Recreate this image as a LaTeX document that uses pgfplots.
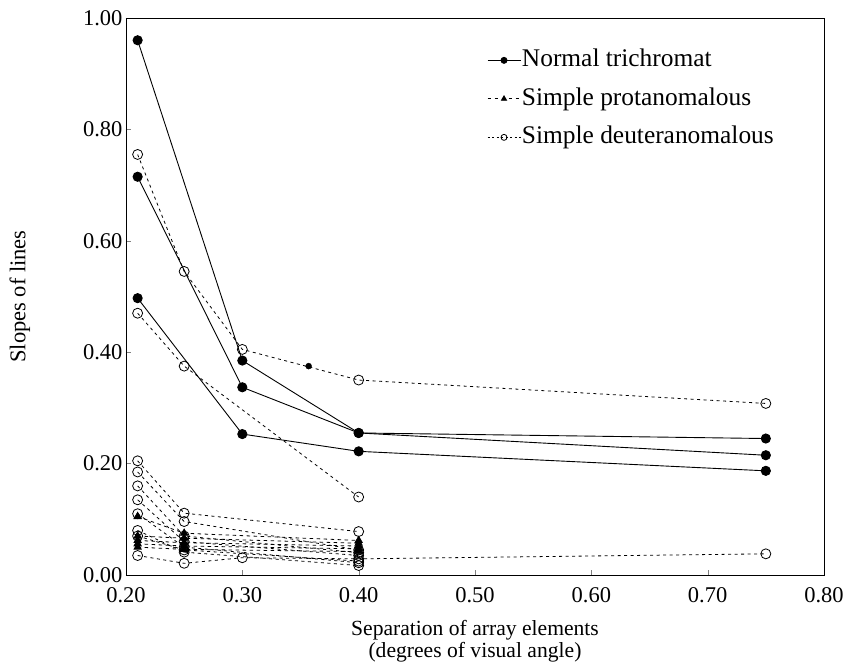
\documentclass[border=0pt]{standalone}
\usepackage{fontspec}
\setmainfont{Liberation Serif}
\usepackage{pgfplots}
\pgfplotsset{compat=1.18}
\pgfplotsset{
  normal/.style={black, line width=0.9pt, mark=*, mark size=4.6pt, mark options={solid, fill=black}},
  prot/.style={black, line width=0.8pt, dash pattern=on 3.5pt off 3.5pt, mark=triangle*, mark size=4.2pt, mark options={solid, fill=black}},
  deut/.style={black, line width=0.8pt, dash pattern=on 3pt off 3.5pt, mark=o, mark size=5pt, mark options={solid, fill=white, line width=0.8pt}},
}
\begin{document}
\begin{tikzpicture}
\begin{axis}[
  name=ax,
  scale only axis, width=698pt, height=557pt,
  xmin=0.2, xmax=0.8, ymin=0, ymax=1,
  xtick={0.2,0.3,0.4,0.5,0.6,0.7,0.8},
  ytick={0,0.2,0.4,0.6,0.8,1.0},
  tick pos=left,
  tick align=inside,
  major tick length=5pt,
  axis line style={line width=0.8pt},
  /pgf/number format/fixed,
  /pgf/number format/fixed zerofill,
  /pgf/number format/precision=2,
  /pgf/number format/assume math mode=true,
  tick label style={font=\fontsize{22.5}{26}\selectfont},
  xticklabel style={yshift=-9pt},
  xlabel={Separation of array elements\\(degrees of visual angle)},
  xlabel style={align=center, font=\fontsize{21.6}{22.5}\selectfont,
    at={(axis description cs:0.5,-0.1185)}, anchor=center},
  ylabel={Slopes of lines},
  ylabel style={font=\fontsize{22.5}{26}\selectfont,
    at={(axis description cs:-0.152,0.5)}, anchor=center},
  legend style={at={(0.517,0.949)}, anchor=north west, draw=none, fill=none,
    font=\fontsize{25.4}{28}\selectfont, row sep=11pt, inner sep=0pt,
    nodes={inner sep=1pt, text height=19pt, text depth=6.5pt}},
  legend cell align=left,
  legend image code/.code={
    \draw[#1, mark size=3pt, mark repeat=2, mark phase=2] plot coordinates {(0pt,0pt) (16.5pt,0pt) (33pt,0pt)};
  },
]
\addlegendimage{normal}
\addlegendentry{Normal trichromat}
\addlegendimage{prot}
\addlegendentry{Simple protanomalous}
\addlegendimage{deut, dash pattern=on 2pt off 2.5pt}
\addlegendentry{Simple deuteranomalous}

% ---- deuteranomalous lines ----
\addplot[deut, forget plot] coordinates {(0.21,0.755) (0.25,0.545) (0.30,0.405) (0.40,0.350) (0.75,0.308)};
\addplot[deut, forget plot] coordinates {(0.21,0.470) (0.25,0.375) (0.40,0.140)};
\addplot[deut, forget plot] coordinates {(0.21,0.205) (0.25,0.111) (0.40,0.078)};
\addplot[deut, forget plot] coordinates {(0.21,0.185) (0.25,0.096) (0.40,0.045)};
\addplot[deut, forget plot] coordinates {(0.21,0.160) (0.25,0.070) (0.40,0.040)};
\addplot[deut, forget plot] coordinates {(0.21,0.135) (0.25,0.060) (0.40,0.035)};
\addplot[deut, forget plot] coordinates {(0.21,0.110) (0.25,0.050) (0.40,0.022)};
\addplot[deut, forget plot] coordinates {(0.21,0.080) (0.25,0.041) (0.40,0.017)};
\addplot[deut, forget plot] coordinates {(0.21,0.070) (0.25,0.045) (0.40,0.025)};
\addplot[deut, forget plot] coordinates {(0.21,0.035) (0.25,0.021) (0.30,0.031) (0.40,0.029) (0.75,0.038)};
% ---- protanomalous lines ----
\addplot[prot, forget plot] coordinates {(0.21,0.105) (0.25,0.075) (0.40,0.062)};
\addplot[prot, forget plot] coordinates {(0.21,0.070) (0.25,0.066) (0.40,0.057)};
\addplot[prot, forget plot] coordinates {(0.21,0.062) (0.25,0.058) (0.40,0.052)};
\addplot[prot, forget plot] coordinates {(0.21,0.056) (0.25,0.052) (0.40,0.047)};
\addplot[prot, forget plot] coordinates {(0.21,0.050) (0.25,0.046) (0.40,0.042)};
% ---- normal trichromat lines ----
\addplot[normal, forget plot] coordinates {(0.21,0.960) (0.30,0.385) (0.40,0.255) (0.75,0.215)};
\addplot[normal, forget plot] coordinates {(0.21,0.715) (0.30,0.337) (0.40,0.255) (0.75,0.245)};
\addplot[normal, forget plot] coordinates {(0.21,0.497) (0.30,0.253) (0.40,0.222) (0.75,0.187)};
% stray dot on the upper dashed line
\addplot[only marks, mark=*, mark size=3pt, black, forget plot] coordinates {(0.357,0.375)};
\end{axis}
\pgfresetboundingbox
\path[use as bounding box] ([shift={(-126pt,-94pt)}]ax.south west) rectangle ([shift={(25pt,18pt)}]ax.north east);
\end{tikzpicture}
\end{document}
